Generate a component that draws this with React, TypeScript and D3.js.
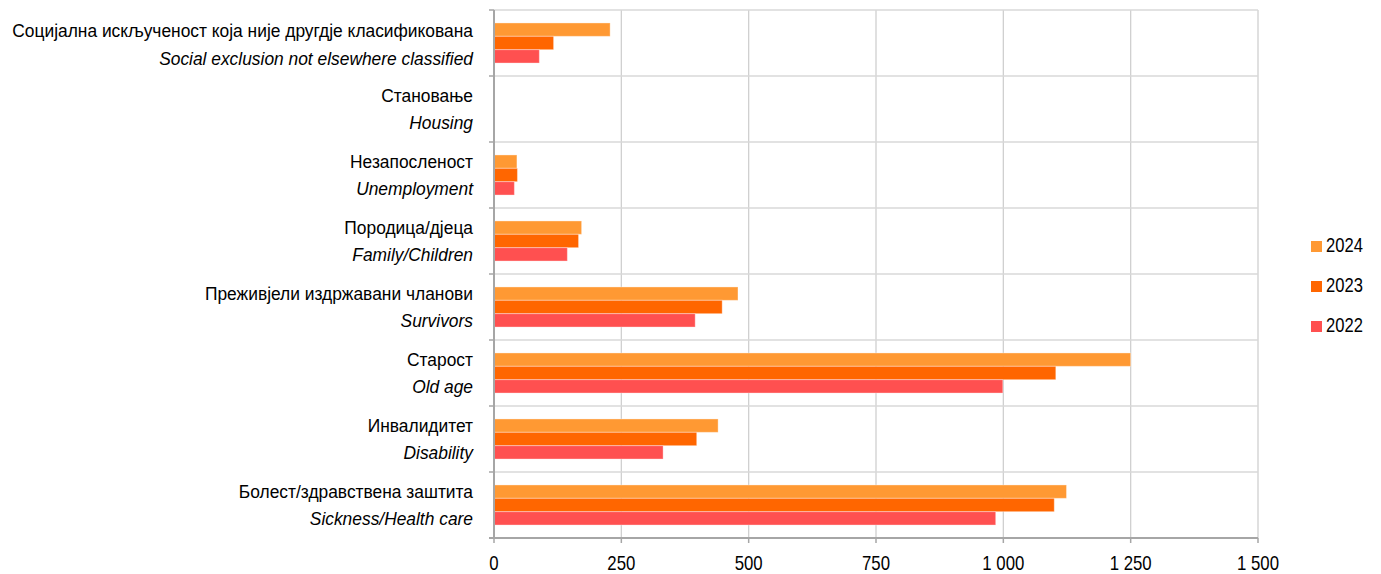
import React from "react";
import * as d3 from "d3";

const categoriesCyr = [
  "Социјална искљученост која није другдје класификована",
  "Становање",
  "Незапосленост",
  "Породица/дјеца",
  "Преживјели издржавани чланови",
  "Старост",
  "Инвалидитет",
  "Болест/здравствена заштита",
];
const categoriesEng = [
  "Social exclusion not elsewhere classified",
  "Housing",
  "Unemployment",
  "Family/Children",
  "Survivors",
  "Old age",
  "Disability",
  "Sickness/Health care",
];
const years = ["2024", "2023", "2022"];
const values2024 = [228, 0, 45, 172, 479, 1250, 440, 1124];
const values2023 = [117, 0, 46, 166, 448, 1103, 398, 1100];
const values2022 = [89, 0, 40, 144, 395, 999, 332, 985];
const xTicks = [0, 250, 500, 750, 1000, 1250, 1500];
const colors = ["#FF9933", "#FF6600", "#FF5050"];

const W = 1381;
const H = 574;
const left = 494;
const right = 1258;
const top = 10;
const bottom = 538;
const FONT = "'Liberation Sans', Arial, sans-serif";

function NText({ x, y, s, size, anchor, italic, children }: any) {
  return (
    <text
      transform={`translate(${x},${y}) scale(${s},1)`}
      textAnchor={anchor}
      fontSize={size}
      fontStyle={italic ? "italic" : "normal"}
      fill="#000"
    >
      {children}
    </text>
  );
}

export default function App() {
  const series = [values2024, values2023, values2022];
  const x = d3.scaleLinear().domain([0, 1500]).range([left, right]);
  const y = d3.scaleBand<number>().domain(d3.range(categoriesCyr.length)).range([top, bottom]).paddingInner(0).paddingOuter(0);
  const inner = d3.scaleBand<string>().domain(years).range([0, y.bandwidth()]).paddingInner(0).paddingOuter(0.97);
  const fmt = (v: number) => d3.format(",")(v).replace(/,/g, " ");

  return (
    <svg width={W} height={H} style={{ position: "absolute", left: 0, top: 0, background: "#fff" }} fontFamily={FONT}>
      {xTicks.slice(1).map((t) => (
        <line key={"gv" + t} x1={x(t)} x2={x(t)} y1={top} y2={bottom} stroke="#d0d0d0" strokeWidth={1.3} />
      ))}
      {d3.range(categoriesCyr.length).map((i) => (
        <line key={"gh" + i} x1={left} x2={right} y1={y(i)!} y2={y(i)!} stroke="#d9d9d9" strokeWidth={1.5} />
      ))}
      {series.map((vals, si) =>
        vals.map((v, i) =>
          v > 0 ? (
            <rect
              key={"b" + si + "-" + i}
              x={x(0)}
              y={y(i)! + inner(years[si])!}
              width={x(v) - x(0)}
              height={inner.bandwidth()}
              fill={colors[si]}
              stroke="#ffffff"
              strokeOpacity={0.35}
              strokeWidth={1}
            />
          ) : null
        )
      )}
      <line x1={left} x2={left} y1={top} y2={bottom} stroke="#a6a6a6" strokeWidth={2} />
      {d3.range(categoriesCyr.length + 1).map((i) => {
        const yy = i < categoriesCyr.length ? y(i)! : bottom;
        return <line key={"lt" + i} x1={left - 5} x2={left} y1={yy} y2={yy} stroke="#a6a6a6" strokeWidth={1.5} />;
      })}
      <line x1={left - 5} x2={right} y1={bottom} y2={bottom} stroke="#a6a6a6" strokeWidth={2} />
      {xTicks.map((t) => (
        <g key={"xt" + t}>
          <line x1={x(t)} x2={x(t)} y1={bottom} y2={bottom + 5} stroke="#a6a6a6" strokeWidth={1.5} />
          <NText x={x(t)} y={bottom + 32} s={0.84} size={20} anchor="middle">
            {fmt(t)}
          </NText>
        </g>
      ))}
      {categoriesCyr.map((c, i) => {
        const cy = y(i)! + y.bandwidth() / 2;
        const first = i === 0;
        return (
          <g key={"cl" + i}>
            <NText x={473} y={first ? cy - 6 : cy - 7} s={0.94} size={18.5} anchor="end">
              {c}
            </NText>
            <NText x={473} y={first ? cy + 22 : cy + 20} s={0.94} size={18.5} anchor="end" italic>
              {categoriesEng[i]}
            </NText>
          </g>
        );
      })}
      {years.map((yr, i) => (
        <g key={"lg" + yr}>
          <rect x={1311} y={241 + i * 40} width={11} height={11} fill={colors[i]} />
          <NText x={1326} y={252 + i * 40} s={0.85} size={19.5} anchor="start">
            {yr}
          </NText>
        </g>
      ))}
    </svg>
  );
}
